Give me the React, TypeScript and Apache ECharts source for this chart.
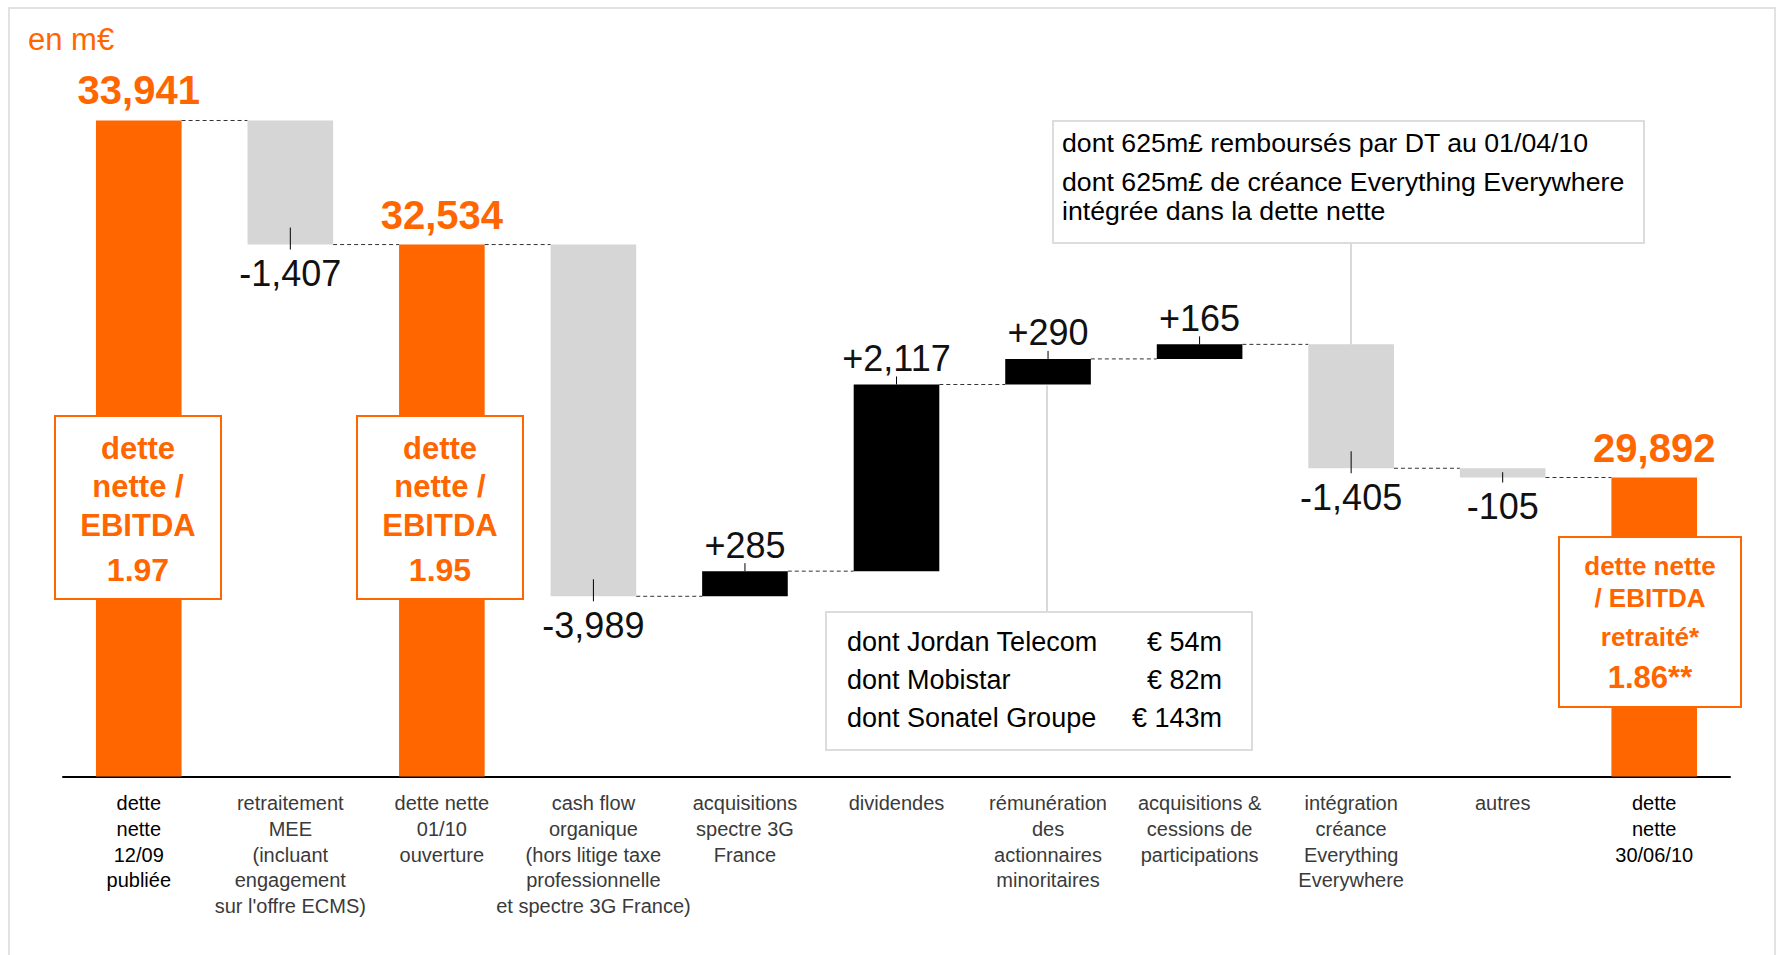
import React, { useEffect, useRef } from 'react';
import * as echarts from 'echarts';

// ---------- data ----------
const categories = [
  'dette\nnette\n12/09\npubliée',
  "retraitement\nMEE\n(incluant\nengagement\nsur l'offre ECMS)",
  'dette nette\n01/10\nouverture',
  'cash flow\norganique\n(hors litige taxe\nprofessionnelle\net spectre 3G France)',
  'acquisitions\nspectre 3G\nFrance',
  'dividendes',
  'rémunération\ndes\nactionnaires\nminoritaires',
  'acquisitions &\ncessions de\nparticipations',
  'intégration\ncréance\nEverything\nEverywhere',
  'autres',
  'dette\nnette\n30/06/10',
];
const barKinds = ['total', 'delta', 'total', 'delta', 'delta', 'delta', 'delta', 'delta', 'delta', 'delta', 'total'];
const boldLabels = [true, false, false, false, false, false, false, false, false, false, true];
const values = [33941, -1407, 32534, -3989, 285, 2117, 290, 165, -1405, -105, 29892];
const valueLabels = ['33,941', '-1,407', '32,534', '-3,989', '+285', '+2,117', '+290', '+165', '-1,405', '-105', '29,892'];

const ratioBox1 = ['dette', 'nette /', 'EBITDA', '1.97'];
const ratioBox2 = ['dette', 'nette /', 'EBITDA', '1.95'];
const ratioBox3 = ['dette nette', '/ EBITDA', 'retraité*', '1.86**'];

const noteTop = [
  'dont 625m£ remboursés par DT au 01/04/10',
  'dont 625m£ de créance Everything Everywhere',
  'intégrée dans la dette nette',
];
const noteBottomNames = ['dont Jordan Telecom', 'dont Mobistar', 'dont Sonatel Groupe'];
const noteBottomAmounts = ['€ 54m', '€ 82m', '€ 143m'];

const unitLabel = 'en m€';
const yMin = 26500;
const yMax = 34500;

// ---------- style ----------
const ORANGE = '#ff6600';
const GRAY = '#d6d6d6';
const BLACK = '#000000';
const FONT = '"Liberation Sans", Arial, Helvetica, sans-serif';

// build waterfall rows: [index, low, high, kindCode, levelAfter]
function buildRows() {
  const rows: number[][] = [];
  let running = 0;
  values.forEach((v, i) => {
    if (barKinds[i] === 'total') {
      running = v;
      rows.push([i, yMin, v, 0, running]);
    } else {
      const start = running;
      const end = running + v;
      running = end;
      rows.push([i, Math.min(start, end), Math.max(start, end), v < 0 ? 1 : 2, running]);
    }
  });
  return rows;
}

function textEl(text: string, x: number, y: number, size: number, color: string, weight: string, align = 'center') {
  return {
    type: 'text',
    z: 20,
    style: {
      text,
      x,
      y,
      fill: color,
      fontSize: size,
      fontWeight: weight,
      fontFamily: FONT,
      align,
      verticalAlign: 'middle',
      textAlign: align,
      textVerticalAlign: 'middle',
    },
  };
}

function ratioBox(x: number, y: number, w: number, h: number, lines: string[], ys: number[], sizes: number[]) {
  const cx = x + w / 2;
  return {
    type: 'group',
    z: 20,
    children: [
      { type: 'rect', z: 20, shape: { x, y, width: w, height: h }, style: { fill: '#fff', stroke: ORANGE, lineWidth: 2 } },
      ...lines.map((l, k) => textEl(l, cx, ys[k], sizes[k], ORANGE, 'bold')),
    ],
  };
}

export default function App() {
  const ref = useRef<HTMLDivElement>(null);

  useEffect(() => {
    if (!ref.current) return;
    const chart = echarts.init(ref.current, undefined, { renderer: 'svg' });
    const rows = buildRows();
    const n = rows.length;

    const renderItem = (params: any, api: any) => {
      const i = params.dataIndex;
      const lo = api.value(1);
      const hi = api.value(2);
      const kind = api.value(3);
      const level = api.value(4);
      const pTop = api.coord([i, hi]);
      const pBot = api.coord([i, lo]);
      const band = api.size([1, 0])[0];
      const w = band * 0.565;
      const cx = pTop[0];
      const x0 = cx - w / 2;
      const yTop = pTop[1];
      const yBot = pBot[1];
      const color = kind === 0 ? ORANGE : kind === 1 ? GRAY : BLACK;
      const children: any[] = [
        { type: 'rect', shape: { x: x0, y: yTop, width: w, height: yBot - yTop }, style: { fill: color } },
      ];
      if (i < n - 1) {
        const ly = api.coord([i, level])[1];
        children.push({
          type: 'line',
          shape: { x1: x0 + w, y1: ly, x2: cx + band - w / 2, y2: ly },
          style: { stroke: '#333', lineWidth: 1, lineDash: [4, 3] },
        });
      }
      if (kind === 0) {
        children.push(textEl(valueLabels[i], cx, yTop - 30, 40, ORANGE, 'bold'));
      } else if (kind === 2) {
        children.push({ type: 'line', shape: { x1: cx, y1: yTop, x2: cx, y2: yTop - 8 }, style: { stroke: '#000', lineWidth: 1 } });
        children.push(textEl(valueLabels[i], cx, yTop - 26, 36, '#111', 'normal'));
      } else {
        const t0 = Math.max(yBot - 17, yTop + 4);
        children.push({ type: 'line', shape: { x1: cx, y1: t0, x2: cx, y2: yBot + 5 }, style: { stroke: '#000', lineWidth: 1 } });
        children.push(textEl(valueLabels[i], cx, yBot + 29, 36, '#111', 'normal'));
      }
      return { type: 'group', children };
    };

    const option: any = {
      animation: false,
      backgroundColor: '#fff',
      grid: { left: 63, right: 53, top: 71.2, bottom: 178.4, containLabel: false },
      xAxis: {
        type: 'category',
        data: categories,
        axisLine: { show: true, onZero: false, lineStyle: { color: '#000', width: 2 } },
        axisTick: { show: false },
        splitLine: { show: false },
        axisLabel: {
          interval: 0,
          hideOverlap: false,
          margin: 14,
          formatter: (val: string, idx: number) => {
            const tag = boldLabels[idx] ? 'b' : 'n';
            return val.split('\n').map((l) => `{${tag}|${l}}`).join('\n');
          },
          rich: {
            b: { fontSize: 20, lineHeight: 25.6, color: '#000', fontFamily: FONT },
            n: { fontSize: 20, lineHeight: 25.6, color: '#3a3a3a', fontFamily: FONT },
          },
        },
      },
      yAxis: { type: 'value', min: yMin, max: yMax, show: false, splitLine: { show: false } },
      series: [
        {
          type: 'custom',
          clip: false,
          z: 2,
          renderItem,
          encode: { x: 0, y: [1, 2] },
          data: rows,
        },
      ],
      graphic: [
        { type: 'rect', z: 0, shape: { x: 9, y: 8, width: 1766, height: 1000 }, style: { fill: 'none', stroke: '#e2e2e2', lineWidth: 2 } },
        textEl(unitLabel, 28, 39, 31, ORANGE, 'normal', 'left'),
        // connectors of annotation boxes
        { type: 'line', z: 1, shape: { x1: 1351, y1: 243, x2: 1351, y2: 344.5 }, style: { stroke: '#d9d9d9', lineWidth: 2 } },
        { type: 'line', z: 1, shape: { x1: 1047, y1: 385.5, x2: 1047, y2: 612 }, style: { stroke: '#d9d9d9', lineWidth: 2 } },
        // top note
        {
          type: 'group',
          z: 20,
          children: [
            { type: 'rect', z: 20, shape: { x: 1053, y: 121, width: 591, height: 122 }, style: { fill: '#fff', stroke: '#dcdcdc', lineWidth: 2 } },
            textEl(noteTop[0], 1062, 143, 26.7, '#000', 'normal', 'left'),
            textEl(noteTop[1], 1062, 182, 26.7, '#000', 'normal', 'left'),
            textEl(noteTop[2], 1062, 211, 26.7, '#000', 'normal', 'left'),
          ],
        },
        // bottom note
        {
          type: 'group',
          z: 20,
          children: [
            { type: 'rect', z: 20, shape: { x: 826, y: 612, width: 426, height: 138 }, style: { fill: '#fff', stroke: '#dcdcdc', lineWidth: 2 } },
            ...noteBottomNames.map((t, k) => textEl(t, 847, 642 + k * 38, 27, '#000', 'normal', 'left')),
            ...noteBottomAmounts.map((t, k) => textEl(t, 1222, 642 + k * 38, 27, '#000', 'normal', 'right')),
          ],
        },
        ratioBox(55, 416, 166, 183, ratioBox1, [448, 486, 525, 570], [31, 31, 31, 32]),
        ratioBox(357, 416, 166, 183, ratioBox2, [448, 486, 525, 570], [31, 31, 31, 32]),
        ratioBox(1559, 537, 182, 170, ratioBox3, [566, 598, 637, 677], [26, 26, 26, 31]),
      ],
    };
    chart.setOption(option);
    return () => chart.dispose();
  }, []);

  return (
    <div
      ref={ref}
      style={{ position: 'fixed', left: 0, top: 0, width: 1783, height: 955, background: '#fff' }}
    />
  );
}
